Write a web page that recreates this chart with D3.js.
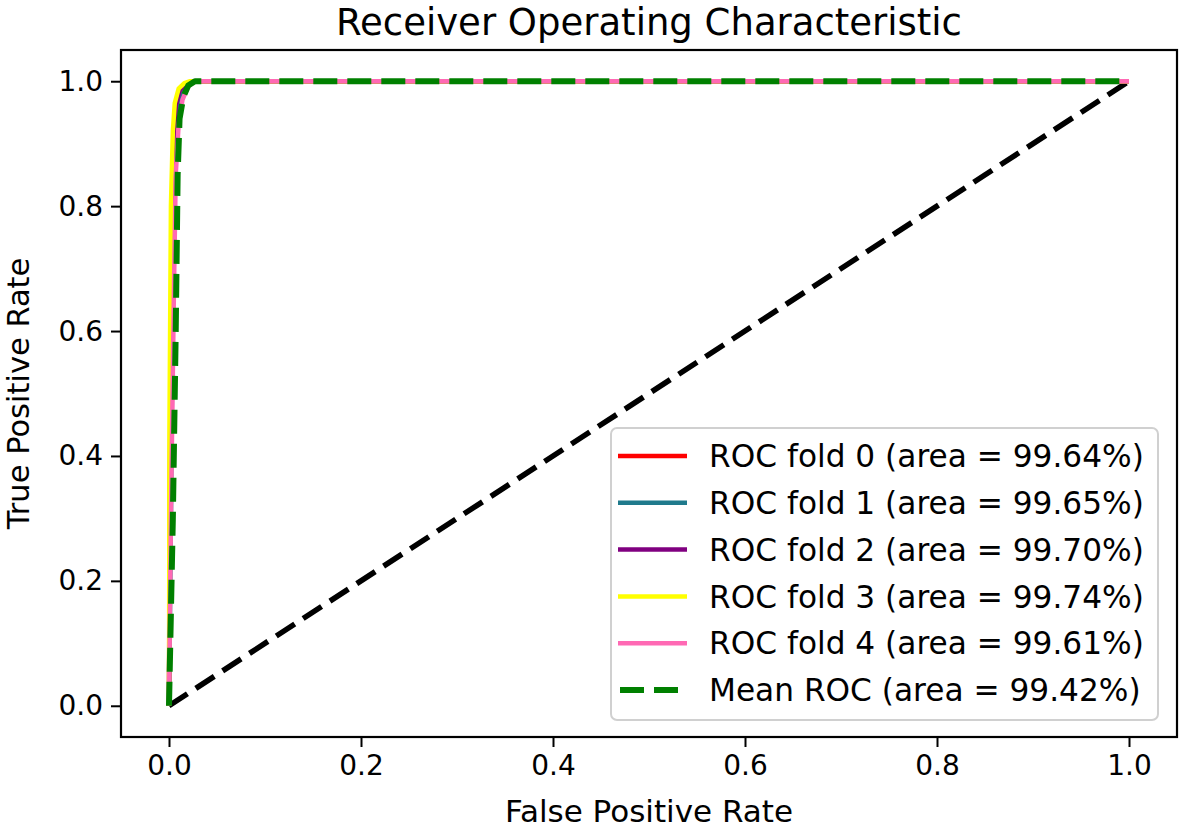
<!DOCTYPE html>
<html>
<head>
<meta charset="utf-8">
<script src="https://cdn.jsdelivr.net/npm/d3@7"></script>
<style>
  body { margin: 0; background: #fff; }
  text { font-family: "DejaVu Sans", sans-serif; fill: #000; }
</style>
</head>
<body>
<div id="chart"></div>
<script>
// Chart data
var foldLabels = ["ROC fold 0", "ROC fold 1", "ROC fold 2", "ROC fold 3", "ROC fold 4"];
var foldAreas = [99.64, 99.65, 99.70, 99.74, 99.61];
var meanArea = 99.42;

var fold0Fpr = [0, 0.001, 0.003, 0.005, 0.008, 0.012, 0.018, 0.025, 1];
var fold0Tpr = [0, 0.35, 0.72, 0.88, 0.95, 0.98, 0.995, 1, 1];
var fold1Fpr = [0, 0.002, 0.004, 0.006, 0.009, 0.013, 0.019, 0.026, 1];
var fold1Tpr = [0, 0.3, 0.68, 0.86, 0.94, 0.975, 0.993, 1, 1];
var fold2Fpr = [0, 0.001, 0.003, 0.005, 0.007, 0.011, 0.017, 0.024, 1];
var fold2Tpr = [0, 0.4, 0.75, 0.9, 0.96, 0.985, 0.996, 1, 1];
var fold3Fpr = [0, 0.0005, 0.002, 0.004, 0.006, 0.01, 0.016, 0.022, 1];
var fold3Tpr = [0, 0.45, 0.8, 0.92, 0.965, 0.988, 0.997, 1, 1];
var fold4Fpr = [0, 0.002, 0.005, 0.007, 0.01, 0.014, 0.02, 0.027, 1];
var fold4Tpr = [0, 0.3, 0.65, 0.85, 0.93, 0.97, 0.992, 1, 1];
var meanFpr = [0, 0.004, 0.007, 0.009, 0.011, 0.015, 0.02, 0.027, 1];
var meanTpr = [0, 0.3, 0.6, 0.85, 0.94, 0.975, 0.993, 1, 1];

var chanceFpr = [0, 1];
var chanceTpr = [0, 1];

var xTicks = [0, 0.2, 0.4, 0.6, 0.8, 1.0];
var yTicks = [0, 0.2, 0.4, 0.6, 0.8, 1.0];

// styles
var foldColors = ["#ff0000", "#1f7a8c", "#800080", "#ffff00", "#ff69b4"];

var svgWidth = 1179;
var svgHeight = 831;
var margin = { top: 50, right: 2, bottom: 94, left: 121 };
var width = svgWidth - margin.left - margin.right;
var height = svgHeight - margin.top - margin.bottom;

var svg = d3.select("#chart").append("svg")
    .attr("width", svgWidth)
    .attr("height", svgHeight);

svg.append("rect").attr("width", svgWidth).attr("height", svgHeight).attr("fill", "#fff");

var g = svg.append("g").attr("transform", `translate(${margin.left},${margin.top})`);

var x = d3.scaleLinear().domain([-0.05, 1.05]).range([0, width]);
var y = d3.scaleLinear().domain([-0.05, 1.05]).range([height, 0]);

var line = d3.line().x(d => x(d[0])).y(d => y(d[1]));
var zipXY = (a, b) => a.map((v, i) => [v, b[i]]);

var plot = g.append("g");

// chance diagonal
plot.append("path")
    .datum(zipXY(chanceFpr, chanceTpr))
    .attr("d", line)
    .attr("fill", "none")
    .attr("stroke", "#000")
    .attr("stroke-width", 5.5)
    .attr("stroke-dasharray", "22,10");

var folds = [
    zipXY(fold0Fpr, fold0Tpr),
    zipXY(fold1Fpr, fold1Tpr),
    zipXY(fold2Fpr, fold2Tpr),
    zipXY(fold3Fpr, fold3Tpr),
    zipXY(fold4Fpr, fold4Tpr)
];

folds.forEach(function(f, i) {
    plot.append("path")
        .datum(f)
        .attr("d", line)
        .attr("fill", "none")
        .attr("stroke", foldColors[i])
        .attr("stroke-width", 4.5)
        .attr("stroke-linejoin", "round");
});

plot.append("path")
    .datum(zipXY(meanFpr, meanTpr))
    .attr("d", line)
    .attr("fill", "none")
    .attr("stroke", "#008000")
    .attr("stroke-width", 6)
    .attr("stroke-linejoin", "round")
    .attr("stroke-dasharray", "24,10");

// axes
var xAxis = g.append("g")
    .attr("transform", `translate(0,${height})`)
    .call(d3.axisBottom(x).tickValues(xTicks).tickFormat(d3.format(".1f")).tickSize(10).tickPadding(8));
var yAxis = g.append("g")
    .call(d3.axisLeft(y).tickValues(yTicks).tickFormat(d3.format(".1f")).tickSize(10).tickPadding(8));

[xAxis, yAxis].forEach(function(a) {
    a.select(".domain").remove();
    a.selectAll(".tick line").attr("stroke", "#000").attr("stroke-width", 2);
    a.selectAll(".tick text").attr("font-size", "28px").attr("font-family", "DejaVu Sans").attr("fill", "#000");
});

// frame
g.append("rect")
    .attr("width", width)
    .attr("height", height)
    .attr("fill", "none")
    .attr("stroke", "#000")
    .attr("stroke-width", 2.2);

// titles
svg.append("text")
    .attr("x", margin.left + width / 2)
    .attr("y", 35)
    .attr("text-anchor", "middle")
    .attr("font-size", "37px")
    .text("Receiver Operating Characteristic");

svg.append("text")
    .attr("x", margin.left + width / 2)
    .attr("y", 822)
    .attr("text-anchor", "middle")
    .attr("font-size", "31px")
    .text("False Positive Rate");

svg.append("text")
    .attr("transform", `translate(29,${margin.top + height / 2}) rotate(-90)`)
    .attr("text-anchor", "middle")
    .attr("font-size", "30.5px")
    .text("True Positive Rate");

// legend
var legend = svg.append("g").attr("transform", "translate(611,428)");
legend.append("rect")
    .attr("width", 547)
    .attr("height", 292)
    .attr("rx", 6)
    .attr("fill", "rgba(255,255,255,0.8)")
    .attr("stroke", "#d0d0d0")
    .attr("stroke-width", 2);

var legendItems = foldLabels.map((l, i) => ({
    label: `${l} (area = ${foldAreas[i].toFixed(2)}%)`,
    color: foldColors[i],
    dash: null,
    w: 4.5,
    x2: 76
}));
legendItems.push({ label: `Mean ROC (area = ${meanArea.toFixed(2)}%)`, color: "#008000", dash: "24,10", w: 6, x2: 67 });

legendItems.forEach(function(item, i) {
    var yy = 28 + i * 46.8;
    legend.append("line")
        .attr("x1", item.dash ? 9 : 7).attr("x2", item.x2)
        .attr("y1", yy).attr("y2", yy)
        .attr("stroke", item.color)
        .attr("stroke-width", item.w)
        .attr("stroke-dasharray", item.dash);
    legend.append("text")
        .attr("x", 98)
        .attr("y", yy)
        .attr("dy", "0.36em")
        .attr("font-size", "31.2px")
        .text(item.label);
});
</script>
</body>
</html>
